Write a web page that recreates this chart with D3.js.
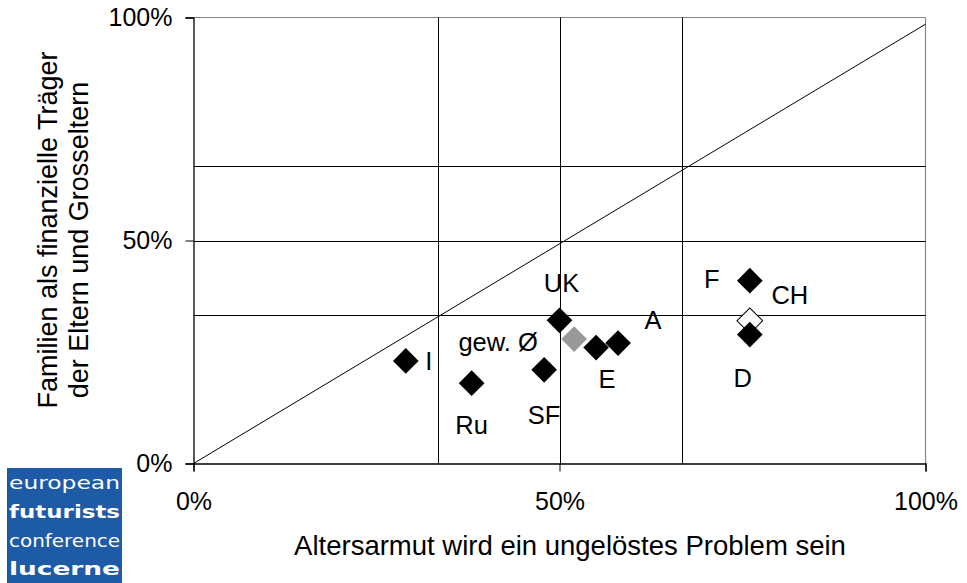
<!DOCTYPE html>
<html>
<head>
<meta charset="utf-8">
<script src="https://cdn.jsdelivr.net/npm/d3@7"></script>
<style>
  html, body { margin: 0; padding: 0; background: #fff; }
  svg { display: block; font-family: "Liberation Sans", Arial, sans-serif; }
</style>
</head>
<body>
<svg id="chart" width="967" height="583"></svg>
<script>
// ---- data ----
const countries = ["gew. Ø", "CH", "I", "Ru", "SF", "UK", "E", "A", "F", "D"];
const altersarmut = [52, 76, 29, 38, 47.9, 50, 55, 58, 76, 76];       // x, %
const familienTraeger = [27.9, 32, 23, 18, 21, 32.1, 26, 27, 41, 28.9]; // y, %
const markerKind = ["avg", "swiss", "c", "c", "c", "c", "c", "c", "c", "c"];
const tickValues = [0, 50, 100];
const gridValues = [100 / 3, 50, 200 / 3];
const diagonal = [[0, 0], [100, 98.5]];
const xTitle = "Altersarmut wird ein ungelöstes Problem sein";
const yTitleLines = ["Familien als finanzielle Träger", "der Eltern und Grosseltern"];
const logoLines = ["european", "futurists", "conference", "lucerne"];

// ---- layout (label offsets in px relative to the marker) ----
const labelOffsets = {
  "gew. Ø": [-76, 3], "CH": [40, -26], "I": [23, 0], "Ru": [0, 42], "SF": [0, 45],
  "UK": [2, -38], "E": [11, 31], "A": [35, -23], "F": [-38, -2], "D": [-7, 43]
};
const fills = { avg: "#999999", swiss: "#ffffff", c: "#000000" };

const svg = d3.select("#chart");
const x = d3.scaleLinear().domain([0, 100]).range([193.5, 925.5]);
const y = d3.scaleLinear().domain([0, 100]).range([463.5, 17.5]);
const FS = 25.5;
const TFS = 27.5;

// plot frame (top/right gray)
svg.append("line").attr("x1", x(0)).attr("x2", x(100)).attr("y1", y(100)).attr("y2", y(100))
  .attr("stroke", "#888").attr("stroke-width", 1.2);
svg.append("line").attr("x1", x(100)).attr("x2", x(100)).attr("y1", y(0)).attr("y2", y(100))
  .attr("stroke", "#888").attr("stroke-width", 1.2);

// gridlines
const grid = svg.append("g").attr("stroke", "#000").attr("stroke-width", 1);
grid.selectAll("line.v").data(gridValues).join("line")
  .attr("x1", d => Math.round(x(d)) + 0.5).attr("x2", d => Math.round(x(d)) + 0.5)
  .attr("y1", y(0)).attr("y2", y(100));
grid.selectAll("line.h").data(gridValues).join("line")
  .attr("y1", d => Math.round(y(d)) + 0.5).attr("y2", d => Math.round(y(d)) + 0.5)
  .attr("x1", x(0)).attr("x2", x(100));

// diagonal
svg.append("path")
  .attr("d", d3.line().x(d => x(d[0])).y(d => y(d[1]))(diagonal))
  .attr("stroke", "#000").attr("stroke-width", 1).attr("fill", "none");

// axes
const yAxis = svg.append("g").attr("transform", `translate(${x(0)},0)`)
  .call(d3.axisLeft(y).tickValues(tickValues).tickFormat(d => d + "%").tickSize(8).tickPadding(13));
const xAxis = svg.append("g").attr("transform", `translate(0,${y(0)})`)
  .call(d3.axisBottom(x).tickValues(tickValues).tickFormat(d => d + "%").tickSize(8).tickPadding(21));
[yAxis, xAxis].forEach(a => {
  a.select(".domain").attr("stroke", "#000").attr("stroke-width", 1.3);
  a.selectAll(".tick line").attr("stroke", "#000");
  a.selectAll(".tick text").attr("font-size", 25).attr("fill", "#000")
    .attr("font-family", "'Liberation Sans', Arial, sans-serif");
});

// titles
svg.append("text").attr("x", 570).attr("y", 555).attr("text-anchor", "middle")
  .attr("font-size", TFS).text(xTitle);
const yTitleCenters = [230, 240];
svg.selectAll("text.ytitle").data(yTitleLines).join("text")
  .attr("class", "ytitle").attr("text-anchor", "middle").attr("font-size", 27)
  .attr("transform", (d, i) => `translate(${57 + i * 31},${yTitleCenters[i]}) rotate(-90)`)
  .text(d => d);

// markers
const pts = countries.map((c, i) => ({ c, xv: altersarmut[i], yv: familienTraeger[i], k: markerKind[i] }));
const diamond = d3.symbol().type(d3.symbolSquare).size(330);
svg.append("g").selectAll("path").data(pts).join("path")
  .attr("d", diamond)
  .attr("transform", d => `translate(${x(d.xv)},${y(d.yv)}) rotate(45)`)
  .attr("fill", d => fills[d.k])
  .attr("stroke", d => d.k === "swiss" ? "#000" : "none")
  .attr("stroke-width", 1);

// labels
svg.append("g").selectAll("text").data(pts).join("text")
  .attr("x", d => x(d.xv) + labelOffsets[d.c][0])
  .attr("y", d => y(d.yv) + labelOffsets[d.c][1])
  .attr("dy", "0.36em")
  .attr("text-anchor", "middle").attr("font-size", FS).attr("fill", "#000")
  .text(d => d.c);

// logo
const logo = svg.append("g");
logo.append("rect").attr("x", 7).attr("y", 468).attr("width", 115).attr("height", 115).attr("fill", "#1d5ba6");
const logoY = [489, 518, 547, 575];
logo.selectAll("text").data(logoLines).join("text")
  .attr("x", 9).attr("y", (d, i) => logoY[i])
  .attr("fill", "#fff")
  .attr("font-family", "'DejaVu Sans', Verdana, sans-serif")
  .attr("font-weight", (d, i) => i % 2 ? "bold" : "normal")
  .attr("font-size", 18)
  .attr("textLength", 111).attr("lengthAdjust", "spacingAndGlyphs")
  .text(d => d);
</script>
</body>
</html>
